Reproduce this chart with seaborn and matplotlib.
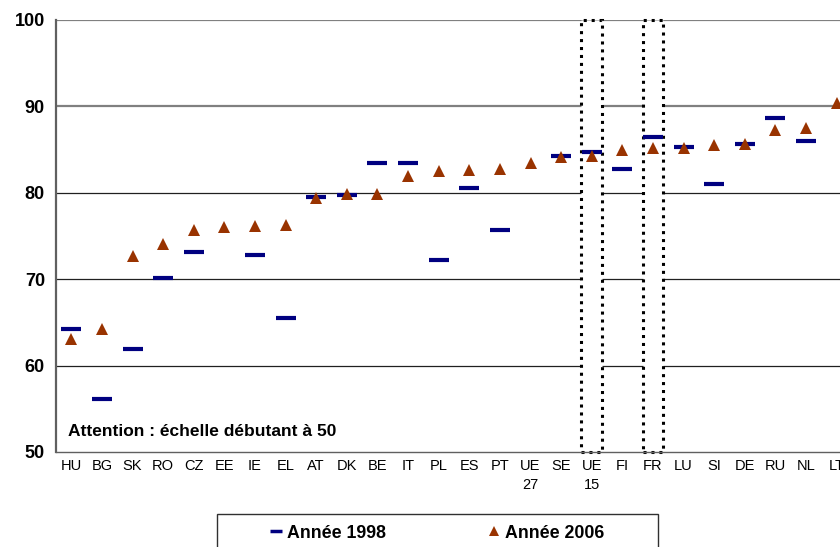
import numpy as np, pandas as pd
import matplotlib; matplotlib.use("Agg")
import matplotlib.pyplot as plt
from matplotlib.patches import Rectangle
from matplotlib.lines import Line2D
import seaborn as sns

sns.set_style("white")
plt.rcParams["font.family"] = ["Liberation Sans", "DejaVu Sans"]
plt.rcParams.update({"text.color": "black", "xtick.color": "black", "ytick.color": "black"})

# ---- data (scale starts at 50) ----
countries = ["HU", "BG", "SK", "RO", "CZ", "EE", "IE", "EL", "AT", "DK", "BE", "IT", "PL",
             "ES", "PT", "UE\n27", "SE", "UE\n15", "FI", "FR", "LU", "SI", "DE", "RU", "NL", "LT"]
y1998 = [64.2, 56.1, 61.9, 70.1, 73.2, np.nan, 72.8, 65.5, 79.5, 79.7, 83.4, 83.5, 72.2,
         80.6, 75.7, np.nan, 84.3, 84.7, 82.7, 86.5, 85.3, 81.0, 85.6, 88.7, 86.0, np.nan]
y2006 = [63.1, 64.2, 72.7, 74.1, 75.7, 76.0, 76.1, 76.3, 79.4, 79.9, 79.9, 82.0, 82.5,
         82.6, 82.8, 83.4, 84.1, 84.3, 84.9, 85.2, 85.2, 85.5, 85.7, 87.3, 87.5, 90.4]
boxed = ["UE\n15", "FR"]
yticks = [50, 60, 70, 80, 90, 100]

df = pd.DataFrame({"pays": countries, "1998": y1998, "2006": y2006})

NAVY, BROWN = "#000080", "#993300"

fig = plt.figure(figsize=(8.4, 5.47), dpi=100)
ax = fig.add_axes([56 / 840, 1 - 452 / 547, 796 / 840, 432 / 547])

sns.pointplot(data=df, x="pays", y="1998", order=countries, linestyle="none", marker="_",
              markersize=15, markeredgewidth=3, color=NAVY, ax=ax, zorder=4)
sns.pointplot(data=df, x="pays", y="2006", order=countries, linestyle="none", marker="^",
              markersize=8.5, markeredgewidth=0, color=BROWN, ax=ax, zorder=5)

ax.set_xlim(-0.5, len(countries) - 0.5)
ax.set_ylim(50, 100)
ax.set_xlabel(""); ax.set_ylabel("")

# horizontal grid (upper lines grey, lower black as in the source)
for v in yticks[1:]:
    if v >= 90:
        ax.axhline(v, color="#808080", lw=1.6, zorder=1)
    else:
        ax.axhline(v, color="#202020", lw=0.9, zorder=1)

# dotted boxes around UE15 and FR
for c in boxed:
    i = countries.index(c)
    ax.add_patch(Rectangle((i - 0.34, 50), 0.68, 50, facecolor="white", edgecolor="black",
                           lw=2.2, ls=(0, (1, 1.6)), zorder=2, clip_on=False))

ax.set_yticks(yticks)
ax.set_yticklabels([str(v) for v in yticks], fontsize=13, fontweight="bold", color="black")
ax.set_xticks(range(len(countries)))
ax.set_xticklabels(countries, fontsize=10.5, linespacing=1.45, color="black")
ax.set_xticks(np.arange(-0.5, len(countries)), minor=True)
ax.tick_params(axis="x", which="major", length=0, pad=5)
ax.tick_params(axis="x", which="minor", length=4, color="#606060", width=1)
ax.tick_params(axis="y", length=5, color="#606060", width=1, pad=3)

for s in ["top", "right"]:
    ax.spines[s].set_visible(False)
ax.spines["left"].set_color("#606060"); ax.spines["left"].set_linewidth(1.6)
ax.spines["bottom"].set_color("#606060"); ax.spines["bottom"].set_linewidth(1.0)

ax.text(12 / 796, 21 / 432, "Attention : échelle débutant à 50", transform=ax.transAxes,
        fontsize=12.5, fontweight="bold", va="center", ha="left", color="black", zorder=6)

# legend: frame drawn separately so it can run past the bottom edge like the source
fig.add_artist(Rectangle((217 / 840, -0.05), 441 / 840, 0.05 + 1 - 514 / 547,
                         transform=fig.transFigure, fill=False, ec="#303030", lw=1.0))
handles = [Line2D([], [], ls="none", marker="_", markersize=9, markeredgewidth=2.5, color=NAVY),
           Line2D([], [], ls="none", marker="^", markersize=7, markeredgewidth=0, color=BROWN)]
leg = fig.legend(handles, ["Année 1998", "Année 2006"], loc="center left",
                 bbox_to_anchor=(269 / 840, 1 - 533 / 547), ncol=2, frameon=False,
                 prop={"weight": "bold", "size": 12.8}, handlelength=0.8,
                 handletextpad=0.2, columnspacing=5.7, borderpad=0, borderaxespad=0)
for t in leg.get_texts():
    t.set_color("black")

fig.savefig("out.png", dpi=100)
